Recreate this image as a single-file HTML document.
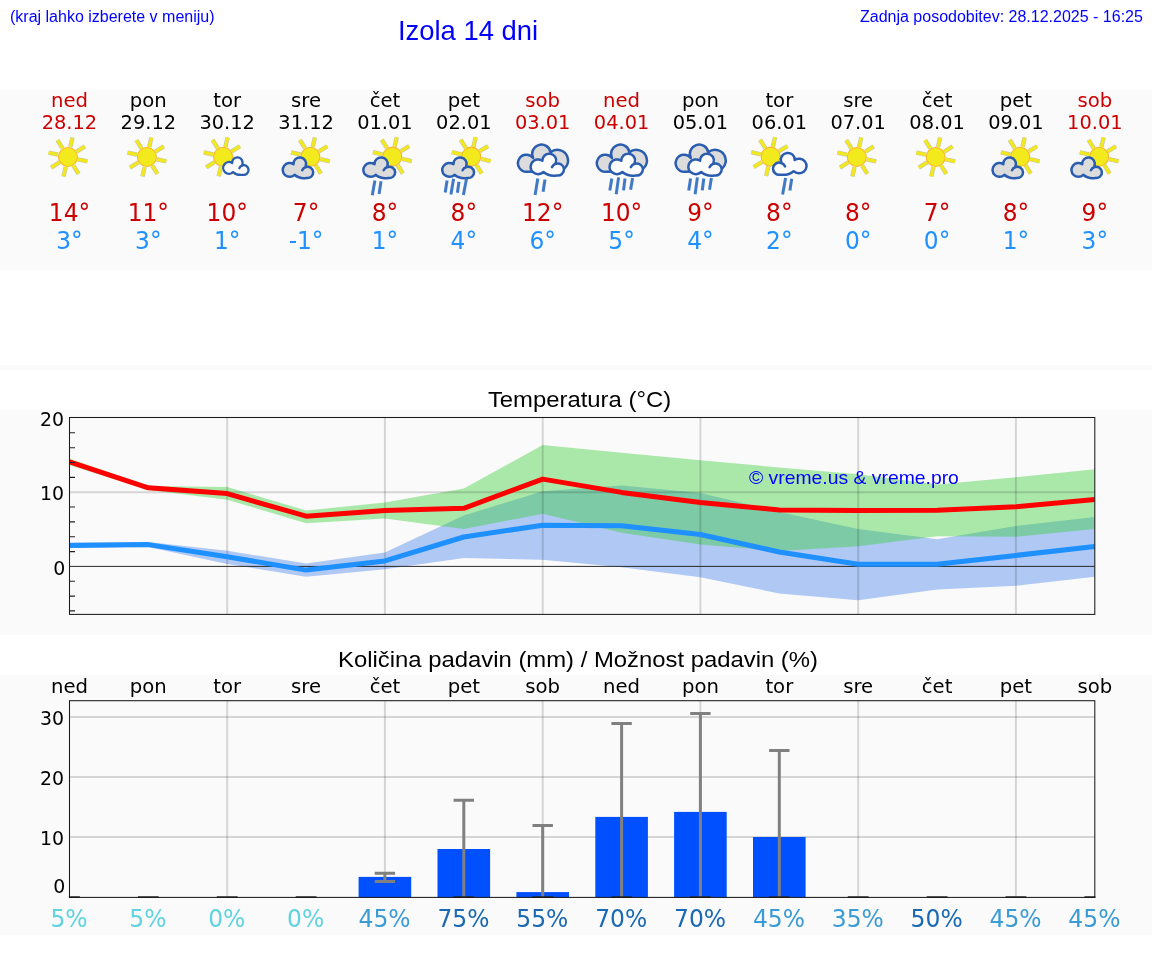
<!DOCTYPE html>
<html lang="sl"><head><meta charset="utf-8"><title>Izola 14 dni</title>
<style>
html,body{margin:0;padding:0;background:#fff;}
body{width:1152px;height:975px;position:relative;overflow:hidden;font-family:"Liberation Sans",sans-serif;}
.hl{position:absolute;left:10px;top:8px;font-size:16px;color:#0000ff;white-space:nowrap;}
.hr{position:absolute;right:9px;top:8px;font-size:16px;color:#0000ff;white-space:nowrap;}
.ht{position:absolute;left:397.5px;top:15px;font-size:27.4px;color:#0000ff;white-space:nowrap;}
svg{position:absolute;left:0;top:0;will-change:transform;}
.hl,.hr,.ht{will-change:transform;}
</style></head><body>
<div class="hl">(kraj lahko izberete v meniju)</div>
<div class="ht">Izola 14 dni</div>
<div class="hr">Zadnja posodobitev: 28.12.2025 - 16:25</div>
<svg width="1152" height="975" viewBox="0 0 1152 975">

<rect x="0" y="90" width="1152" height="180" fill="#fafafa"/>
<rect x="0" y="365" width="1152" height="5" fill="#fafafa"/>
<rect x="0" y="410" width="1152" height="225" fill="#fafafa"/>
<rect x="0" y="675" width="1152" height="260" fill="#fafafa"/>
<defs>
<g id="sun">
 <g fill="none">
  <g id="rays"><path id="ray" d="M0 -10.2V-19.9" transform="rotate(13)"/>
  <use href="#ray" transform="rotate(45)"/><use href="#ray" transform="rotate(90)"/><use href="#ray" transform="rotate(135)"/>
  <use href="#ray" transform="rotate(180)"/><use href="#ray" transform="rotate(225)"/><use href="#ray" transform="rotate(270)"/><use href="#ray" transform="rotate(315)"/></g>
 </g>
</g>
</defs>
<text transform="translate(69.45 106.60) scale(1.0350 1)" font-size="19.00" fill="#cc0000" text-anchor="middle" font-family='"DejaVu Sans", sans-serif'>ned</text>
<text transform="translate(69.45 128.70) scale(1.0200 1)" font-size="19.00" fill="#cc0000" text-anchor="middle" font-family='"DejaVu Sans", sans-serif'>28.12</text>
<g transform="translate(68.0 157.0)"><use href="#rays" stroke="#a0a090" stroke-opacity="0.6" stroke-width="4.4" fill="none"/><use href="#rays" stroke="#f1e81d" stroke-width="3.3" fill="none"/><circle r="9.5" fill="#f2ea1c" stroke="#f9b62a" stroke-width="1.1"/></g>
<text transform="translate(69.45 221.00) scale(0.9550 1)" font-size="24.40" fill="#cc0000" text-anchor="middle" font-family='"DejaVu Sans", sans-serif'>14°</text>
<text transform="translate(69.45 248.80) scale(0.9550 1)" font-size="24.40" fill="#1e90ff" text-anchor="middle" font-family='"DejaVu Sans", sans-serif'>3°</text>
<text transform="translate(148.32 106.60) scale(1.0350 1)" font-size="19.00" fill="#000" text-anchor="middle" font-family='"DejaVu Sans", sans-serif'>pon</text>
<text transform="translate(148.32 128.70) scale(1.0200 1)" font-size="19.00" fill="#000" text-anchor="middle" font-family='"DejaVu Sans", sans-serif'>29.12</text>
<g transform="translate(146.9 157.0)"><use href="#rays" stroke="#a0a090" stroke-opacity="0.6" stroke-width="4.4" fill="none"/><use href="#rays" stroke="#f1e81d" stroke-width="3.3" fill="none"/><circle r="9.5" fill="#f2ea1c" stroke="#f9b62a" stroke-width="1.1"/></g>
<text transform="translate(148.32 221.00) scale(0.9550 1)" font-size="24.40" fill="#cc0000" text-anchor="middle" font-family='"DejaVu Sans", sans-serif'>11°</text>
<text transform="translate(148.32 248.80) scale(0.9550 1)" font-size="24.40" fill="#1e90ff" text-anchor="middle" font-family='"DejaVu Sans", sans-serif'>3°</text>
<text transform="translate(227.20 106.60) scale(1.0350 1)" font-size="19.00" fill="#000" text-anchor="middle" font-family='"DejaVu Sans", sans-serif'>tor</text>
<text transform="translate(227.20 128.70) scale(1.0200 1)" font-size="19.00" fill="#000" text-anchor="middle" font-family='"DejaVu Sans", sans-serif'>30.12</text>
<g transform="translate(223.1 156.8)"><use href="#rays" stroke="#a0a090" stroke-opacity="0.6" stroke-width="4.4" fill="none"/><use href="#rays" stroke="#f1e81d" stroke-width="3.3" fill="none"/><circle r="9.5" fill="#f2ea1c" stroke="#f9b62a" stroke-width="1.1"/></g><g transform="translate(222.2 156.2)" stroke="#2a5db0" stroke-width="2.3" stroke-linejoin="round" stroke-linecap="round"><path d="M10.82 15.83 A5.73 5.88 0 1 1 9.97 6.80 A5.23 5.37 0 1 1 20.17 8.14 L20.13 9.19 A4.73 4.86 0 1 1 20.77 18.59 C17.44 19.09 13.70 18.41 10.82 15.83 Z" fill="#fcfcfc"/><path d="M20.13 9.19 A4.73 4.86 0 0 0 17.20 11.99" fill="none"/></g>
<text transform="translate(227.20 221.00) scale(0.9550 1)" font-size="24.40" fill="#cc0000" text-anchor="middle" font-family='"DejaVu Sans", sans-serif'>10°</text>
<text transform="translate(227.20 248.80) scale(0.9550 1)" font-size="24.40" fill="#1e90ff" text-anchor="middle" font-family='"DejaVu Sans", sans-serif'>1°</text>
<text transform="translate(306.07 106.60) scale(1.0350 1)" font-size="19.00" fill="#000" text-anchor="middle" font-family='"DejaVu Sans", sans-serif'>sre</text>
<text transform="translate(306.07 128.70) scale(1.0200 1)" font-size="19.00" fill="#000" text-anchor="middle" font-family='"DejaVu Sans", sans-serif'>31.12</text>
<g transform="translate(310.4 156.8)"><use href="#rays" stroke="#a0a090" stroke-opacity="0.6" stroke-width="4.4" fill="none"/><use href="#rays" stroke="#f1e81d" stroke-width="3.3" fill="none"/><circle r="9.5" fill="#f2ea1c" stroke="#f9b62a" stroke-width="1.1"/></g><g transform="translate(281.5 156.2)" stroke="#2a5db0" stroke-width="2.5" stroke-linejoin="round" stroke-linecap="round"><path d="M13.03 18.58 A6.90 6.90 0 1 1 12.01 7.98 A6.30 6.30 0 1 1 24.29 9.55 L24.24 10.78 A5.70 5.70 0 1 1 25.01 21.81 C21.00 22.40 16.50 21.60 13.03 18.58 Z" fill="#dcdcdc"/><path d="M24.24 10.78 A5.70 5.70 0 0 0 20.72 14.06" fill="none"/></g>
<text transform="translate(306.07 221.00) scale(0.9550 1)" font-size="24.40" fill="#cc0000" text-anchor="middle" font-family='"DejaVu Sans", sans-serif'>7°</text>
<text transform="translate(306.07 248.80) scale(0.9550 1)" font-size="24.40" fill="#1e90ff" text-anchor="middle" font-family='"DejaVu Sans", sans-serif'>-1°</text>
<text transform="translate(384.94 106.60) scale(1.0350 1)" font-size="19.00" fill="#000" text-anchor="middle" font-family='"DejaVu Sans", sans-serif'>čet</text>
<text transform="translate(384.94 128.70) scale(1.0200 1)" font-size="19.00" fill="#000" text-anchor="middle" font-family='"DejaVu Sans", sans-serif'>01.01</text>
<g transform="translate(392.3 156.6)"><use href="#rays" stroke="#a0a090" stroke-opacity="0.6" stroke-width="4.4" fill="none"/><use href="#rays" stroke="#f1e81d" stroke-width="3.3" fill="none"/><circle r="9.5" fill="#f2ea1c" stroke="#f9b62a" stroke-width="1.1"/></g><g transform="translate(362.0 156.2)" stroke="#2a5db0" stroke-width="2.5" stroke-linejoin="round" stroke-linecap="round"><path d="M13.62 18.58 A7.21 6.90 0 1 1 12.56 7.98 A6.59 6.30 0 1 1 25.40 9.55 L25.34 10.78 A5.96 5.70 0 1 1 26.15 21.81 C21.95 22.40 17.25 21.60 13.62 18.58 Z" fill="#dcdcdc"/><path d="M25.34 10.78 A5.96 5.70 0 0 0 21.66 14.06" fill="none"/></g><path d="M374.9 180.6L372.3 195.2" stroke="#4279c7" stroke-width="3.0" fill="none"/><path d="M381.0 181.3L379.1 194.0" stroke="#4279c7" stroke-width="3.0" fill="none"/>
<text transform="translate(384.94 221.00) scale(0.9550 1)" font-size="24.40" fill="#cc0000" text-anchor="middle" font-family='"DejaVu Sans", sans-serif'>8°</text>
<text transform="translate(384.94 248.80) scale(0.9550 1)" font-size="24.40" fill="#1e90ff" text-anchor="middle" font-family='"DejaVu Sans", sans-serif'>1°</text>
<text transform="translate(463.82 106.60) scale(1.0350 1)" font-size="19.00" fill="#000" text-anchor="middle" font-family='"DejaVu Sans", sans-serif'>pet</text>
<text transform="translate(463.82 128.70) scale(1.0200 1)" font-size="19.00" fill="#000" text-anchor="middle" font-family='"DejaVu Sans", sans-serif'>02.01</text>
<g transform="translate(471.2 156.6)"><use href="#rays" stroke="#a0a090" stroke-opacity="0.6" stroke-width="4.4" fill="none"/><use href="#rays" stroke="#f1e81d" stroke-width="3.3" fill="none"/><circle r="9.5" fill="#f2ea1c" stroke="#f9b62a" stroke-width="1.1"/></g><g transform="translate(440.9 156.2)" stroke="#2a5db0" stroke-width="2.5" stroke-linejoin="round" stroke-linecap="round"><path d="M13.62 18.58 A7.21 6.90 0 1 1 12.56 7.98 A6.59 6.30 0 1 1 25.40 9.55 L25.34 10.78 A5.96 5.70 0 1 1 26.15 21.81 C21.95 22.40 17.25 21.60 13.62 18.58 Z" fill="#dcdcdc"/><path d="M25.34 10.78 A5.96 5.70 0 0 0 21.66 14.06" fill="none"/></g><path d="M447.1 180.6L445.2 192.5" stroke="#4279c7" stroke-width="3.0" fill="none"/><path d="M453.6 178.8L450.9 194.5" stroke="#4279c7" stroke-width="3.0" fill="none"/><path d="M459.0 181.7L457.4 192.8" stroke="#4279c7" stroke-width="3.0" fill="none"/><path d="M466.5 178.8L463.4 195.0" stroke="#4279c7" stroke-width="3.0" fill="none"/>
<text transform="translate(463.82 221.00) scale(0.9550 1)" font-size="24.40" fill="#cc0000" text-anchor="middle" font-family='"DejaVu Sans", sans-serif'>8°</text>
<text transform="translate(463.82 248.80) scale(0.9550 1)" font-size="24.40" fill="#1e90ff" text-anchor="middle" font-family='"DejaVu Sans", sans-serif'>4°</text>
<text transform="translate(542.69 106.60) scale(1.0350 1)" font-size="19.00" fill="#cc0000" text-anchor="middle" font-family='"DejaVu Sans", sans-serif'>sob</text>
<text transform="translate(542.69 128.70) scale(1.0200 1)" font-size="19.00" fill="#cc0000" text-anchor="middle" font-family='"DejaVu Sans", sans-serif'>03.01</text>
<path transform="translate(515.8 142.6)" d="M11.18 29.17 A8.50 8.50 0 1 1 17.30 15.36 A9.30 9.30 0 1 1 34.80 9.56 A10.70 10.70 0 1 1 39.64 28.44 Z" fill="#dcdcdc" stroke="#2a5db0" stroke-width="2.5" stroke-linejoin="round"/><g transform="translate(529.2 152.3)" stroke="#2a5db0" stroke-width="2.5" stroke-linejoin="round" stroke-linecap="round"><path d="M14.29 19.71 A7.57 7.32 0 1 1 13.18 8.47 A6.91 6.68 0 1 1 26.65 10.13 L26.59 11.44 A6.25 6.05 0 1 1 27.44 23.14 C23.04 23.76 18.10 22.91 14.29 19.71 Z" fill="#fcfcfc"/><path d="M26.59 11.44 A6.25 6.05 0 0 0 22.72 14.92" fill="none"/></g><path d="M537.8 178.5L535.1 195.0" stroke="#4279c7" stroke-width="3.0" fill="none"/><path d="M545.0 179.5L543.1 191.8" stroke="#4279c7" stroke-width="3.0" fill="none"/>
<text transform="translate(542.69 221.00) scale(0.9550 1)" font-size="24.40" fill="#cc0000" text-anchor="middle" font-family='"DejaVu Sans", sans-serif'>12°</text>
<text transform="translate(542.69 248.80) scale(0.9550 1)" font-size="24.40" fill="#1e90ff" text-anchor="middle" font-family='"DejaVu Sans", sans-serif'>6°</text>
<text transform="translate(621.56 106.60) scale(1.0350 1)" font-size="19.00" fill="#cc0000" text-anchor="middle" font-family='"DejaVu Sans", sans-serif'>ned</text>
<text transform="translate(621.56 128.70) scale(1.0200 1)" font-size="19.00" fill="#cc0000" text-anchor="middle" font-family='"DejaVu Sans", sans-serif'>04.01</text>
<path transform="translate(594.7 142.6)" d="M11.18 29.17 A8.50 8.50 0 1 1 17.30 15.36 A9.30 9.30 0 1 1 34.80 9.56 A10.70 10.70 0 1 1 39.64 28.44 Z" fill="#dcdcdc" stroke="#2a5db0" stroke-width="2.5" stroke-linejoin="round"/><g transform="translate(608.1 152.3)" stroke="#2a5db0" stroke-width="2.5" stroke-linejoin="round" stroke-linecap="round"><path d="M14.29 19.71 A7.57 7.32 0 1 1 13.18 8.47 A6.91 6.68 0 1 1 26.65 10.13 L26.59 11.44 A6.25 6.05 0 1 1 27.44 23.14 C23.04 23.76 18.10 22.91 14.29 19.71 Z" fill="#fcfcfc"/><path d="M26.59 11.44 A6.25 6.05 0 0 0 22.72 14.92" fill="none"/></g><path d="M611.8 178.5L609.8 190.4" stroke="#4279c7" stroke-width="3.0" fill="none"/><path d="M618.6 177.4L616.2 194.3" stroke="#4279c7" stroke-width="3.0" fill="none"/><path d="M625.0 178.5L623.5 190.4" stroke="#4279c7" stroke-width="3.0" fill="none"/><path d="M632.6 178.1L630.6 189.7" stroke="#4279c7" stroke-width="3.0" fill="none"/>
<text transform="translate(621.56 221.00) scale(0.9550 1)" font-size="24.40" fill="#cc0000" text-anchor="middle" font-family='"DejaVu Sans", sans-serif'>10°</text>
<text transform="translate(621.56 248.80) scale(0.9550 1)" font-size="24.40" fill="#1e90ff" text-anchor="middle" font-family='"DejaVu Sans", sans-serif'>5°</text>
<text transform="translate(700.43 106.60) scale(1.0350 1)" font-size="19.00" fill="#000" text-anchor="middle" font-family='"DejaVu Sans", sans-serif'>pon</text>
<text transform="translate(700.43 128.70) scale(1.0200 1)" font-size="19.00" fill="#000" text-anchor="middle" font-family='"DejaVu Sans", sans-serif'>05.01</text>
<path transform="translate(673.5 142.6)" d="M11.18 29.17 A8.50 8.50 0 1 1 17.30 15.36 A9.30 9.30 0 1 1 34.80 9.56 A10.70 10.70 0 1 1 39.64 28.44 Z" fill="#dcdcdc" stroke="#2a5db0" stroke-width="2.5" stroke-linejoin="round"/><g transform="translate(686.9 152.3)" stroke="#2a5db0" stroke-width="2.5" stroke-linejoin="round" stroke-linecap="round"><path d="M14.29 19.71 A7.57 7.32 0 1 1 13.18 8.47 A6.91 6.68 0 1 1 26.65 10.13 L26.59 11.44 A6.25 6.05 0 1 1 27.44 23.14 C23.04 23.76 18.10 22.91 14.29 19.71 Z" fill="#fcfcfc"/><path d="M26.59 11.44 A6.25 6.05 0 0 0 22.72 14.92" fill="none"/></g><path d="M690.6 178.5L688.7 190.4" stroke="#4279c7" stroke-width="3.0" fill="none"/><path d="M697.4 177.4L695.1 194.3" stroke="#4279c7" stroke-width="3.0" fill="none"/><path d="M703.8 178.5L702.3 190.4" stroke="#4279c7" stroke-width="3.0" fill="none"/><path d="M711.4 178.1L709.5 189.7" stroke="#4279c7" stroke-width="3.0" fill="none"/>
<text transform="translate(700.43 221.00) scale(0.9550 1)" font-size="24.40" fill="#cc0000" text-anchor="middle" font-family='"DejaVu Sans", sans-serif'>9°</text>
<text transform="translate(700.43 248.80) scale(0.9550 1)" font-size="24.40" fill="#1e90ff" text-anchor="middle" font-family='"DejaVu Sans", sans-serif'>4°</text>
<text transform="translate(779.31 106.60) scale(1.0350 1)" font-size="19.00" fill="#000" text-anchor="middle" font-family='"DejaVu Sans", sans-serif'>tor</text>
<text transform="translate(779.31 128.70) scale(1.0200 1)" font-size="19.00" fill="#000" text-anchor="middle" font-family='"DejaVu Sans", sans-serif'>06.01</text>
<g transform="translate(770.6 156.6)"><use href="#rays" stroke="#a0a090" stroke-opacity="0.6" stroke-width="4.4" fill="none"/><use href="#rays" stroke="#f1e81d" stroke-width="3.3" fill="none"/><circle r="9.5" fill="#f2ea1c" stroke="#f9b62a" stroke-width="1.1"/></g><g transform="translate(807.9 151.5)" stroke="#2a5db0" stroke-width="2.5" stroke-linejoin="round" stroke-linecap="round"><path d="M-14.33 19.71 A7.59 7.32 0 1 0 -13.21 8.47 A6.93 6.68 0 1 0 -26.72 10.13 L-26.66 11.44 A6.27 6.05 0 1 0 -27.51 23.14 C-23.10 23.76 -18.15 22.91 -14.33 19.71 Z" fill="#fcfcfc"/><path d="M-26.66 11.44 A6.27 6.05 0 0 1 -22.79 14.92" fill="none"/></g><path d="M785.6 178.1L782.6 194.6" stroke="#4279c7" stroke-width="3.0" fill="none"/><path d="M791.7 178.8L789.9 190.4" stroke="#4279c7" stroke-width="3.0" fill="none"/>
<text transform="translate(779.31 221.00) scale(0.9550 1)" font-size="24.40" fill="#cc0000" text-anchor="middle" font-family='"DejaVu Sans", sans-serif'>8°</text>
<text transform="translate(779.31 248.80) scale(0.9550 1)" font-size="24.40" fill="#1e90ff" text-anchor="middle" font-family='"DejaVu Sans", sans-serif'>2°</text>
<text transform="translate(858.18 106.60) scale(1.0350 1)" font-size="19.00" fill="#000" text-anchor="middle" font-family='"DejaVu Sans", sans-serif'>sre</text>
<text transform="translate(858.18 128.70) scale(1.0200 1)" font-size="19.00" fill="#000" text-anchor="middle" font-family='"DejaVu Sans", sans-serif'>07.01</text>
<g transform="translate(856.8 157.0)"><use href="#rays" stroke="#a0a090" stroke-opacity="0.6" stroke-width="4.4" fill="none"/><use href="#rays" stroke="#f1e81d" stroke-width="3.3" fill="none"/><circle r="9.5" fill="#f2ea1c" stroke="#f9b62a" stroke-width="1.1"/></g>
<text transform="translate(858.18 221.00) scale(0.9550 1)" font-size="24.40" fill="#cc0000" text-anchor="middle" font-family='"DejaVu Sans", sans-serif'>8°</text>
<text transform="translate(858.18 248.80) scale(0.9550 1)" font-size="24.40" fill="#1e90ff" text-anchor="middle" font-family='"DejaVu Sans", sans-serif'>0°</text>
<text transform="translate(937.05 106.60) scale(1.0350 1)" font-size="19.00" fill="#000" text-anchor="middle" font-family='"DejaVu Sans", sans-serif'>čet</text>
<text transform="translate(937.05 128.70) scale(1.0200 1)" font-size="19.00" fill="#000" text-anchor="middle" font-family='"DejaVu Sans", sans-serif'>08.01</text>
<g transform="translate(935.7 157.0)"><use href="#rays" stroke="#a0a090" stroke-opacity="0.6" stroke-width="4.4" fill="none"/><use href="#rays" stroke="#f1e81d" stroke-width="3.3" fill="none"/><circle r="9.5" fill="#f2ea1c" stroke="#f9b62a" stroke-width="1.1"/></g>
<text transform="translate(937.05 221.00) scale(0.9550 1)" font-size="24.40" fill="#cc0000" text-anchor="middle" font-family='"DejaVu Sans", sans-serif'>7°</text>
<text transform="translate(937.05 248.80) scale(0.9550 1)" font-size="24.40" fill="#1e90ff" text-anchor="middle" font-family='"DejaVu Sans", sans-serif'>0°</text>
<text transform="translate(1015.93 106.60) scale(1.0350 1)" font-size="19.00" fill="#000" text-anchor="middle" font-family='"DejaVu Sans", sans-serif'>pet</text>
<text transform="translate(1015.93 128.70) scale(1.0200 1)" font-size="19.00" fill="#000" text-anchor="middle" font-family='"DejaVu Sans", sans-serif'>09.01</text>
<g transform="translate(1020.2 156.8)"><use href="#rays" stroke="#a0a090" stroke-opacity="0.6" stroke-width="4.4" fill="none"/><use href="#rays" stroke="#f1e81d" stroke-width="3.3" fill="none"/><circle r="9.5" fill="#f2ea1c" stroke="#f9b62a" stroke-width="1.1"/></g><g transform="translate(991.3 156.2)" stroke="#2a5db0" stroke-width="2.5" stroke-linejoin="round" stroke-linecap="round"><path d="M13.03 18.58 A6.90 6.90 0 1 1 12.01 7.98 A6.30 6.30 0 1 1 24.29 9.55 L24.24 10.78 A5.70 5.70 0 1 1 25.01 21.81 C21.00 22.40 16.50 21.60 13.03 18.58 Z" fill="#dcdcdc"/><path d="M24.24 10.78 A5.70 5.70 0 0 0 20.72 14.06" fill="none"/></g>
<text transform="translate(1015.93 221.00) scale(0.9550 1)" font-size="24.40" fill="#cc0000" text-anchor="middle" font-family='"DejaVu Sans", sans-serif'>8°</text>
<text transform="translate(1015.93 248.80) scale(0.9550 1)" font-size="24.40" fill="#1e90ff" text-anchor="middle" font-family='"DejaVu Sans", sans-serif'>1°</text>
<text transform="translate(1094.80 106.60) scale(1.0350 1)" font-size="19.00" fill="#cc0000" text-anchor="middle" font-family='"DejaVu Sans", sans-serif'>sob</text>
<text transform="translate(1094.80 128.70) scale(1.0200 1)" font-size="19.00" fill="#cc0000" text-anchor="middle" font-family='"DejaVu Sans", sans-serif'>10.01</text>
<g transform="translate(1099.1 156.8)"><use href="#rays" stroke="#a0a090" stroke-opacity="0.6" stroke-width="4.4" fill="none"/><use href="#rays" stroke="#f1e81d" stroke-width="3.3" fill="none"/><circle r="9.5" fill="#f2ea1c" stroke="#f9b62a" stroke-width="1.1"/></g><g transform="translate(1070.2 156.2)" stroke="#2a5db0" stroke-width="2.5" stroke-linejoin="round" stroke-linecap="round"><path d="M13.03 18.58 A6.90 6.90 0 1 1 12.01 7.98 A6.30 6.30 0 1 1 24.29 9.55 L24.24 10.78 A5.70 5.70 0 1 1 25.01 21.81 C21.00 22.40 16.50 21.60 13.03 18.58 Z" fill="#dcdcdc"/><path d="M24.24 10.78 A5.70 5.70 0 0 0 20.72 14.06" fill="none"/></g>
<text transform="translate(1094.80 221.00) scale(0.9550 1)" font-size="24.40" fill="#cc0000" text-anchor="middle" font-family='"DejaVu Sans", sans-serif'>9°</text>
<text transform="translate(1094.80 248.80) scale(0.9550 1)" font-size="24.40" fill="#1e90ff" text-anchor="middle" font-family='"DejaVu Sans", sans-serif'>3°</text>
<text transform="translate(579.50 407.30) scale(1.0850 1)" font-size="22.00" fill="#000" text-anchor="middle" font-family='"Liberation Sans", sans-serif'>Temperatura (°C)</text>
<clipPath id="c1"><rect x="69.5" y="417.5" width="1025.3" height="196.9"/></clipPath>
<g clip-path="url(#c1)">
<polygon points="69.5,542.5 148.3,542.0 227.2,550.8 306.1,563.4 384.9,552.6 463.8,515.6 542.7,491.2 621.6,485.4 700.4,492.9 779.3,512.0 858.2,528.9 937.1,539.2 1015.9,525.9 1094.8,517.1 1094.8,576.7 1015.9,585.8 937.1,589.4 858.2,600.3 779.3,593.5 700.4,577.3 621.6,567.2 542.7,559.7 463.8,557.9 384.9,569.2 306.1,576.7 227.2,563.9 148.3,547.0 69.5,548.0" fill="rgb(100,149,237)" fill-opacity="0.5"/>
<polygon points="69.5,458.6 148.3,486.0 227.2,487.0 306.1,510.5 384.9,502.5 463.8,488.4 542.7,445.1 621.6,452.7 700.4,460.2 779.3,467.5 858.2,474.3 937.1,484.6 1015.9,477.2 1094.8,469.3 1094.8,528.9 1015.9,536.8 937.1,536.3 858.2,546.3 779.3,551.0 700.4,544.6 621.6,532.7 542.7,513.8 463.8,528.9 384.9,518.6 306.1,523.2 227.2,499.7 148.3,490.0 69.5,465.3" fill="rgb(50,205,50)" fill-opacity="0.4"/>
<path d="M227.2 417.5V614.4M384.9 417.5V614.4M542.7 417.5V614.4M700.4 417.5V614.4M858.2 417.5V614.4M1015.9 417.5V614.4" stroke="#000" stroke-opacity="0.145" stroke-width="2" fill="none"/>
<path d="M69.5 492.2H1094.8" stroke="#000" stroke-opacity="0.145" stroke-width="2" fill="none"/>
<path d="M69.5 566.4H1094.8" stroke="#2a2a2a" stroke-width="1.0" fill="none"/>
<polyline points="69.5,461.9 148.3,487.8 227.2,493.6 306.1,516.2 384.9,510.6 463.8,508.3 542.7,479.1 621.6,492.4 700.4,502.5 779.3,510.0 858.2,510.6 937.1,510.3 1015.9,506.7 1094.8,499.4" fill="none" stroke="#ff0000" stroke-width="5" stroke-linejoin="round"/>
<polyline points="69.5,545.6 148.3,544.6 227.2,556.8 306.1,570.1 384.9,560.9 463.8,537.0 542.7,525.2 621.6,525.7 700.4,534.5 779.3,552.0 858.2,564.3 937.1,564.3 1015.9,555.4 1094.8,546.6" fill="none" stroke="#1e90ff" stroke-width="5" stroke-linejoin="round"/>
</g>
<path d="M69.5 610.9h5.5M69.5 596.1h5.5M69.5 581.2h5.5M69.5 551.6h5.5M69.5 536.7h5.5M69.5 521.9h5.5M69.5 507.0h5.5M69.5 477.4h5.5M69.5 462.5h5.5M69.5 447.7h5.5M69.5 432.8h5.5" stroke="#222" stroke-width="1.1" fill="none"/>
<rect x="69.5" y="417.5" width="1025.3" height="196.9" fill="none" stroke="#1a1a1a" stroke-width="1.05"/>
<text transform="translate(64.00 426.20) scale(0.9850 1)" font-size="19.20" fill="#000" text-anchor="end" font-family='"DejaVu Sans", sans-serif'>20</text>
<text transform="translate(64.00 500.40) scale(0.9850 1)" font-size="19.20" fill="#000" text-anchor="end" font-family='"DejaVu Sans", sans-serif'>10</text>
<text transform="translate(65.20 574.60) scale(0.9850 1)" font-size="19.20" fill="#000" text-anchor="end" font-family='"DejaVu Sans", sans-serif'>0</text>
<text transform="translate(749.00 484.00) scale(1.0400 1)" font-size="18.60" fill="#0000ff" text-anchor="start" font-family='"Liberation Sans", sans-serif'>© vreme.us &amp; vreme.pro</text>
<text transform="translate(578.00 667.30) scale(1.0850 1)" font-size="22.00" fill="#000" text-anchor="middle" font-family='"Liberation Sans", sans-serif'>Količina padavin (mm) / Možnost padavin (%)</text>
<text transform="translate(69.45 692.80) scale(1.0350 1)" font-size="19.00" fill="#000" text-anchor="middle" font-family='"DejaVu Sans", sans-serif'>ned</text>
<text transform="translate(148.32 692.80) scale(1.0350 1)" font-size="19.00" fill="#000" text-anchor="middle" font-family='"DejaVu Sans", sans-serif'>pon</text>
<text transform="translate(227.20 692.80) scale(1.0350 1)" font-size="19.00" fill="#000" text-anchor="middle" font-family='"DejaVu Sans", sans-serif'>tor</text>
<text transform="translate(306.07 692.80) scale(1.0350 1)" font-size="19.00" fill="#000" text-anchor="middle" font-family='"DejaVu Sans", sans-serif'>sre</text>
<text transform="translate(384.94 692.80) scale(1.0350 1)" font-size="19.00" fill="#000" text-anchor="middle" font-family='"DejaVu Sans", sans-serif'>čet</text>
<text transform="translate(463.82 692.80) scale(1.0350 1)" font-size="19.00" fill="#000" text-anchor="middle" font-family='"DejaVu Sans", sans-serif'>pet</text>
<text transform="translate(542.69 692.80) scale(1.0350 1)" font-size="19.00" fill="#000" text-anchor="middle" font-family='"DejaVu Sans", sans-serif'>sob</text>
<text transform="translate(621.56 692.80) scale(1.0350 1)" font-size="19.00" fill="#000" text-anchor="middle" font-family='"DejaVu Sans", sans-serif'>ned</text>
<text transform="translate(700.43 692.80) scale(1.0350 1)" font-size="19.00" fill="#000" text-anchor="middle" font-family='"DejaVu Sans", sans-serif'>pon</text>
<text transform="translate(779.31 692.80) scale(1.0350 1)" font-size="19.00" fill="#000" text-anchor="middle" font-family='"DejaVu Sans", sans-serif'>tor</text>
<text transform="translate(858.18 692.80) scale(1.0350 1)" font-size="19.00" fill="#000" text-anchor="middle" font-family='"DejaVu Sans", sans-serif'>sre</text>
<text transform="translate(937.05 692.80) scale(1.0350 1)" font-size="19.00" fill="#000" text-anchor="middle" font-family='"DejaVu Sans", sans-serif'>čet</text>
<text transform="translate(1015.93 692.80) scale(1.0350 1)" font-size="19.00" fill="#000" text-anchor="middle" font-family='"DejaVu Sans", sans-serif'>pet</text>
<text transform="translate(1094.80 692.80) scale(1.0350 1)" font-size="19.00" fill="#000" text-anchor="middle" font-family='"DejaVu Sans", sans-serif'>sob</text>
<clipPath id="c2"><rect x="68.9" y="700.7" width="1026.5" height="197.7"/></clipPath>
<g clip-path="url(#c2)">
<path d="M227.2 700.7V897.4M384.9 700.7V897.4M542.7 700.7V897.4M700.4 700.7V897.4M858.2 700.7V897.4M1015.9 700.7V897.4" stroke="#000" stroke-opacity="0.145" stroke-width="2" fill="none"/>
<path d="M69.5 837.0H1094.8M69.5 776.9H1094.8M69.5 716.9H1094.8" stroke="#000" stroke-opacity="0.145" stroke-width="2" fill="none"/>
<rect x="358.6" y="876.9" width="52.6" height="20.6" fill="#0050ff"/>
<rect x="437.5" y="849.0" width="52.6" height="48.5" fill="#0050ff"/>
<rect x="516.4" y="892.1" width="52.6" height="5.4" fill="#0050ff"/>
<rect x="595.3" y="816.9" width="52.6" height="80.6" fill="#0050ff"/>
<rect x="674.1" y="811.9" width="52.6" height="85.6" fill="#0050ff"/>
<rect x="753.0" y="837.0" width="52.6" height="60.5" fill="#0050ff"/>
<path d="M384.9 881.5V873.3M374.7 873.3h20.4M374.7 881.5h20.4M463.8 897.0V800.3M453.6 800.3h20.4M542.7 897.0V825.5M532.5 825.5h20.4M621.6 897.0V723.5M611.4 723.5h20.4M700.4 897.0V713.5M690.2 713.5h20.4M779.3 897.0V750.5M769.1 750.5h20.4" stroke="#808080" stroke-width="3" fill="none"/>
<path d="M59.1 897.1h20.8M137.9 897.1h20.8M216.8 897.1h20.8M295.7 897.1h20.8M453.4 897.1h20.8M532.3 897.1h20.8M611.2 897.1h20.8M690.0 897.1h20.8M768.9 897.1h20.8M847.8 897.1h20.8M926.7 897.1h20.8M1005.5 897.1h20.8M1084.4 897.1h20.8" stroke="#2a2a2a" stroke-width="1.9" fill="none"/>
</g>
<rect x="69.5" y="700.7" width="1025.3" height="196.7" fill="none" stroke="#1a1a1a" stroke-width="1.05"/>
<text transform="translate(64.00 725.00) scale(0.9850 1)" font-size="19.20" fill="#000" text-anchor="end" font-family='"DejaVu Sans", sans-serif'>30</text>
<text transform="translate(64.00 785.00) scale(0.9850 1)" font-size="19.20" fill="#000" text-anchor="end" font-family='"DejaVu Sans", sans-serif'>20</text>
<text transform="translate(64.00 845.00) scale(0.9850 1)" font-size="19.20" fill="#000" text-anchor="end" font-family='"DejaVu Sans", sans-serif'>10</text>
<text transform="translate(65.20 892.80) scale(0.9850 1)" font-size="19.20" fill="#000" text-anchor="end" font-family='"DejaVu Sans", sans-serif'>0</text>
<text transform="translate(69.05 926.80) scale(0.9800 1)" font-size="23.90" fill="#5fd3e0" text-anchor="middle" font-family='"DejaVu Sans", sans-serif'>5%</text>
<text transform="translate(147.92 926.80) scale(0.9800 1)" font-size="23.90" fill="#5fd3e0" text-anchor="middle" font-family='"DejaVu Sans", sans-serif'>5%</text>
<text transform="translate(226.80 926.80) scale(0.9800 1)" font-size="23.90" fill="#5fd3e0" text-anchor="middle" font-family='"DejaVu Sans", sans-serif'>0%</text>
<text transform="translate(305.67 926.80) scale(0.9800 1)" font-size="23.90" fill="#5fd3e0" text-anchor="middle" font-family='"DejaVu Sans", sans-serif'>0%</text>
<text transform="translate(384.54 926.80) scale(0.9800 1)" font-size="23.90" fill="#3b9bd5" text-anchor="middle" font-family='"DejaVu Sans", sans-serif'>45%</text>
<text transform="translate(463.42 926.80) scale(0.9800 1)" font-size="23.90" fill="#1a69b5" text-anchor="middle" font-family='"DejaVu Sans", sans-serif'>75%</text>
<text transform="translate(542.29 926.80) scale(0.9800 1)" font-size="23.90" fill="#1a69b5" text-anchor="middle" font-family='"DejaVu Sans", sans-serif'>55%</text>
<text transform="translate(621.16 926.80) scale(0.9800 1)" font-size="23.90" fill="#1a69b5" text-anchor="middle" font-family='"DejaVu Sans", sans-serif'>70%</text>
<text transform="translate(700.03 926.80) scale(0.9800 1)" font-size="23.90" fill="#1a69b5" text-anchor="middle" font-family='"DejaVu Sans", sans-serif'>70%</text>
<text transform="translate(778.91 926.80) scale(0.9800 1)" font-size="23.90" fill="#3b9bd5" text-anchor="middle" font-family='"DejaVu Sans", sans-serif'>45%</text>
<text transform="translate(857.78 926.80) scale(0.9800 1)" font-size="23.90" fill="#3b9bd5" text-anchor="middle" font-family='"DejaVu Sans", sans-serif'>35%</text>
<text transform="translate(936.65 926.80) scale(0.9800 1)" font-size="23.90" fill="#1a69b5" text-anchor="middle" font-family='"DejaVu Sans", sans-serif'>50%</text>
<text transform="translate(1015.53 926.80) scale(0.9800 1)" font-size="23.90" fill="#3b9bd5" text-anchor="middle" font-family='"DejaVu Sans", sans-serif'>45%</text>
<text transform="translate(1094.40 926.80) scale(0.9800 1)" font-size="23.90" fill="#3b9bd5" text-anchor="middle" font-family='"DejaVu Sans", sans-serif'>45%</text>
</svg></body></html>
